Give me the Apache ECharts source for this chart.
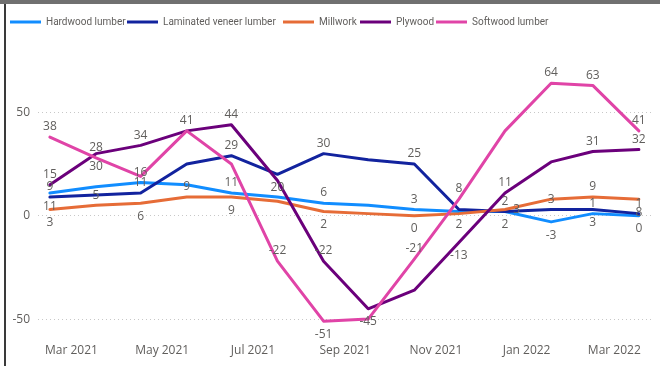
<!DOCTYPE html>
<html>
<head>
<meta charset="utf-8">
<script src="https://cdn.jsdelivr.net/npm/echarts@6/dist/echarts.min.js"></script>
<style>
  html, body { margin: 0; padding: 0; background: #fff; }
  #chart { width: 660px; height: 366px; }
</style>
</head>
<body>
<div id="chart"></div>
<script>
// Monthly periods, one point per month
const periods = ['2021-03', '2021-04', '2021-05', '2021-06', '2021-07', '2021-08', '2021-09',
                 '2021-10', '2021-11', '2021-12', '2022-01', '2022-02', '2022-03', '2022-04'];

// Axis tick labels (every other month)
const tickPeriods = ['2021-03', '2021-05', '2021-07', '2021-09', '2021-11', '2022-01', '2022-03'];
const tickLabels = ['Mar 2021', 'May 2021', 'Jul 2021', 'Sep 2021', 'Nov 2021', 'Jan 2022', 'Mar 2022'];
const yTicks = [-50, 0, 50];

// Series values
const seriesNames = ['Hardwood lumber', 'Laminated veneer lumber', 'Millwork', 'Plywood', 'Softwood lumber'];
const hardwood = [11, 14, 16, 15, 11, 9, 6, 5, 3, 2, 2, -3, 1, 0];
const laminated = [9, 10, 11, 25, 29, 20, 30, 27, 25, 3, 2, 3, 3, 1];
const millwork = [3, 5, 6, 9, 9, 7, 2, 1, 0, 1, 3, 8, 9, 8];
const plywood = [15, 30, 34, 41, 44, 17, -22, -45, -36, -13, 11, 26, 31, 32];
const softwood = [38, 28, 19, 41, 25, -22, -51, -50, -21, 8, 41, 64, 63, 41];

// Which points carry a value label, and on which side (t = above, b = below, r = right)
const hardwoodLabels = ['b', '', 't', '', 't', '', 't', '', 't', 'b', 'b', 'b', 't', 'b'];
const laminatedLabels = ['t', '', 't', '', 't', 'b', 't', '', 't', '', 't', 't', 'b', 't'];
const millworkLabels = ['b', 't', 'b', 't', 'b', '', 'b', '', 'b', '', 'r', '', 't', 'b'];
const plywoodLabels = ['t', 'b', 't', '', 't', '', 't', 'b', '', 'b', 't', '', 't', 't'];
const softwoodLabels = ['t', 't', '', 't', '', 't', 'b', '', 't', 't', '', 't', 't', 't'];

const colors = ['#118DFF', '#12239E', '#E66C37', '#6B007B', '#E044A7'];
const textGray = '#605E5C';
const baseFont = "'Segoe UI', 'Open Sans', sans-serif";

// Left edge of each legend entry
const legendLeft = [10, 127, 283, 360, 436];

const DAY = 86400000;
const t0 = Date.parse(periods[0] + '-01T00:00:00Z');
const dayOf = p => (Date.parse(p + '-01T00:00:00Z') - t0) / DAY;
const xDays = periods.map(dayOf);
const LABEL_SHIFT = 14.5; // month labels sit a little after the month start
const tickPos = tickPeriods.map(p => dayOf(p) + LABEL_SHIFT);

function labelFor(flag) {
  if (!flag) return { show: false };
  const pos = flag === 't' ? 'top' : flag === 'b' ? 'bottom' : 'right';
  const dist = flag === 't' ? 4 : flag === 'b' ? 7 : 8;
  return { show: true, position: pos, distance: dist };
}

function buildSeries(name, values, flags, color) {
  return {
    name: name,
    type: 'line',
    data: values.map((v, i) => ({ value: [xDays[i], v], label: labelFor(flags[i]) })),
    symbol: 'circle',
    symbolSize: 0.5,
    showSymbol: true,
    itemStyle: { color: color },
    lineStyle: { color: color, width: 3, join: 'round', cap: 'round' },
    label: {
      formatter: p => String(p.value[1]),
      color: textGray,
      fontSize: 12,
      fontFamily: baseFont
    },
    emphasis: { disabled: true },
    animation: false
  };
}

const chart = echarts.init(document.getElementById('chart'), null, { renderer: 'canvas' });

chart.setOption({
  backgroundColor: '#ffffff',
  animation: false,
  color: colors,
  graphic: [
    { type: 'rect', shape: { x: 0, y: 0, width: 660, height: 4 }, style: { fill: '#707070' }, silent: true },
    { type: 'rect', shape: { x: 4, y: 4, width: 2, height: 362 }, style: { fill: '#3a3a3a' }, silent: true }
  ],
  legend: seriesNames.map((name, i) => ({
    left: legendLeft[i],
    top: 17,
    padding: 0,
    itemWidth: 31,
    itemHeight: 3,
    icon: 'rect',
    textStyle: { color: textGray, fontSize: 10, fontFamily: 'Roboto, sans-serif' },
    data: [name]
  })),
  grid: { left: 38, right: 7, top: 70.9, bottom: 26.2, containLabel: false },
  xAxis: {
    type: 'value',
    min: -8,
    max: 405.5,
    axisLine: { show: false },
    axisTick: { show: false },
    splitLine: { show: false },
    axisLabel: {
      customValues: tickPos,
      formatter: v => {
        const k = tickPos.findIndex(p => Math.abs(p - v) < 0.5);
        return k >= 0 ? tickLabels[k] : '';
      },
      color: textGray,
      fontSize: 12,
      fontFamily: baseFont,
      margin: 5
    }
  },
  yAxis: {
    type: 'value',
    min: -60,
    max: 70,
    axisLine: { show: false },
    axisTick: { show: false, customValues: yTicks },
    axisLabel: {
      customValues: yTicks,
      color: textGray,
      fontSize: 12,
      fontFamily: baseFont,
      margin: 8
    },
    splitLine: { show: true, lineStyle: { color: '#c8c8c8', width: 1, type: [1, 3] } }
  },
  series: [
    buildSeries(seriesNames[0], hardwood, hardwoodLabels, colors[0]),
    buildSeries(seriesNames[1], laminated, laminatedLabels, colors[1]),
    buildSeries(seriesNames[2], millwork, millworkLabels, colors[2]),
    buildSeries(seriesNames[3], plywood, plywoodLabels, colors[3]),
    buildSeries(seriesNames[4], softwood, softwoodLabels, colors[4])
  ]
});
</script>
</body>
</html>
